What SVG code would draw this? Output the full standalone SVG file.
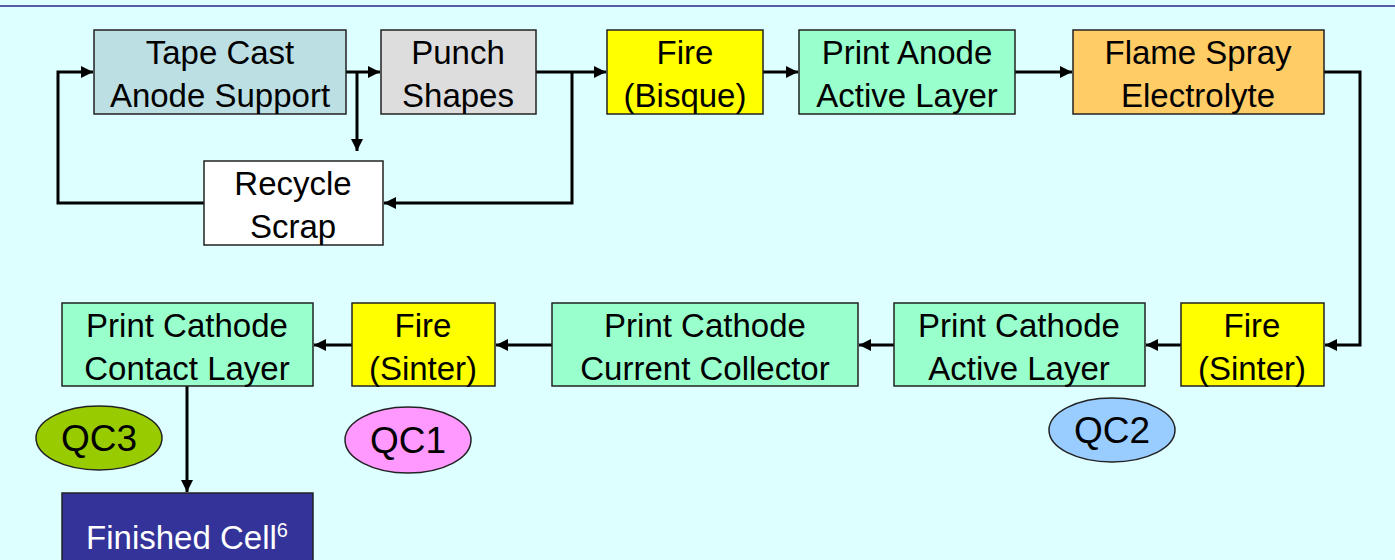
<svg xmlns="http://www.w3.org/2000/svg" width="1395" height="560" viewBox="0 0 1395 560">
<style>
.bg{fill:#ddffff}
.box{stroke:#222;stroke-width:1.5}
.t{font-family:"Liberation Sans",Arial,sans-serif;font-size:33px;fill:#000;text-anchor:middle}
.q{font-size:37px}
.w{fill:#fff}
.c{fill:none;stroke:#000;stroke-width:3}
</style>
<defs>
<marker id="ah" markerUnits="userSpaceOnUse" markerWidth="14" markerHeight="14" viewBox="0 0 14 14" refX="13" refY="7" orient="auto">
<path d="M1,1 L13,7 L1,13 Z" fill="#000"/>
</marker>
</defs>
<rect class="bg" x="0" y="0" width="1395" height="560"/>
<line x1="0" y1="6" x2="1395" y2="6" stroke="#5a5aa8" stroke-width="2"/>

<g id="connectors">
<path class="c" d="M346,72 H380" marker-end="url(#ah)"/>
<path class="c" d="M357,72 V151" marker-end="url(#ah)"/>
<path class="c" d="M536,72 H606" marker-end="url(#ah)"/>
<path class="c" d="M572,72 V203 H384" marker-end="url(#ah)"/>
<path class="c" d="M204,203 H58 V72 H93" marker-end="url(#ah)"/>
<path class="c" d="M763,72 H798" marker-end="url(#ah)"/>
<path class="c" d="M1015,72 H1072" marker-end="url(#ah)"/>
<path class="c" d="M1324,72 H1360 V345 H1325" marker-end="url(#ah)"/>
<path class="c" d="M1181,345 H1146" marker-end="url(#ah)"/>
<path class="c" d="M894,345 H859" marker-end="url(#ah)"/>
<path class="c" d="M552,345 H496" marker-end="url(#ah)"/>
<path class="c" d="M352,345 H314" marker-end="url(#ah)"/>
<path class="c" d="M187,386 V492" marker-end="url(#ah)"/>
</g>

<g id="tape-cast">
<rect class="box" x="94" y="30" width="252" height="84" fill="#bbdfe2"/>
<text class="t" x="220" y="64">Tape Cast</text>
<text class="t" x="220" y="107">Anode Support</text>
</g>
<g id="punch-shapes">
<rect class="box" x="381" y="30" width="155" height="84" fill="#dddddd"/>
<text class="t" x="458" y="64">Punch</text>
<text class="t" x="458" y="107">Shapes</text>
</g>
<g id="fire-bisque">
<rect class="box" x="607" y="30" width="156" height="84" fill="#ffff00"/>
<text class="t" x="685" y="64">Fire</text>
<text class="t" x="685" y="107">(Bisque)</text>
</g>
<g id="print-anode">
<rect class="box" x="799" y="30" width="216" height="84" fill="#99ffcc"/>
<text class="t" x="907" y="64">Print Anode</text>
<text class="t" x="907" y="107">Active Layer</text>
</g>
<g id="flame-spray">
<rect class="box" x="1073" y="30" width="251" height="84" fill="#ffcc66"/>
<text class="t" x="1198" y="64">Flame Spray</text>
<text class="t" x="1198" y="107">Electrolyte</text>
</g>
<g id="recycle-scrap">
<rect class="box" x="204" y="161" width="179" height="84" fill="#ffffff"/>
<text class="t" x="293" y="195">Recycle</text>
<text class="t" x="293" y="238">Scrap</text>
</g>
<g id="fire-sinter-1">
<rect class="box" x="1181" y="303" width="143" height="83" fill="#ffff00"/>
<text class="t" x="1252" y="337">Fire</text>
<text class="t" x="1252" y="380">(Sinter)</text>
</g>
<g id="cathode-active">
<rect class="box" x="894" y="303" width="251" height="83" fill="#99ffcc"/>
<text class="t" x="1019" y="337">Print Cathode</text>
<text class="t" x="1019" y="380">Active Layer</text>
</g>
<g id="cathode-collector">
<rect class="box" x="552" y="303" width="306" height="83" fill="#99ffcc"/>
<text class="t" x="705" y="337">Print Cathode</text>
<text class="t" x="705" y="380">Current Collector</text>
</g>
<g id="fire-sinter-2">
<rect class="box" x="352" y="303" width="143" height="83" fill="#ffff00"/>
<text class="t" x="423" y="337">Fire</text>
<text class="t" x="423" y="380">(Sinter)</text>
</g>
<g id="cathode-contact">
<rect class="box" x="62" y="303" width="251" height="83" fill="#99ffcc"/>
<text class="t" x="187" y="337">Print Cathode</text>
<text class="t" x="187" y="380">Contact Layer</text>
</g>
<g id="finished-cell">
<rect class="box" x="62" y="493" width="251" height="80" fill="#333399"/>
<text class="t w" x="187" y="549">Finished Cell<tspan font-size="20" dy="-12">6</tspan></text>
</g>
<g id="qc3">
<ellipse class="box" cx="99" cy="438" rx="63" ry="32" fill="#99cc00"/>
<text class="t q" x="99" y="451">QC3</text>
</g>
<g id="qc1">
<ellipse class="box" cx="408" cy="440" rx="63" ry="33" fill="#ff99ff"/>
<text class="t q" x="408" y="453">QC1</text>
</g>
<g id="qc2">
<ellipse class="box" cx="1112" cy="430" rx="63" ry="32" fill="#99ccff"/>
<text class="t q" x="1112" y="443">QC2</text>
</g>
</svg>
